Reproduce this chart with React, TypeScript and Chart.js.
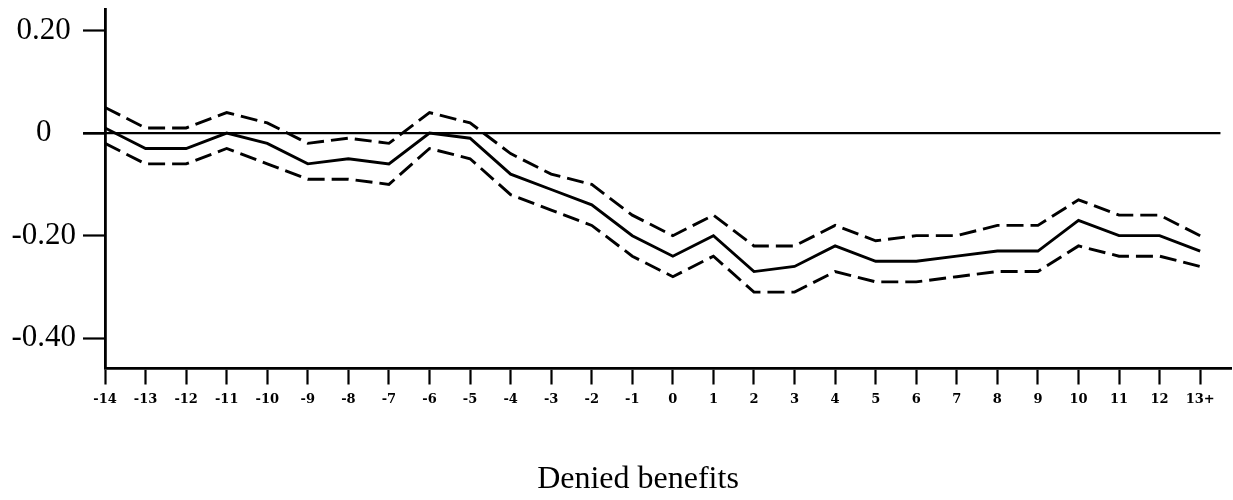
import React, { useEffect, useRef } from "react";
import { Chart, registerables } from "chart.js";

Chart.register(...registerables);

const LABELS = ["-14", "-13", "-12", "-11", "-10", "-9", "-8", "-7", "-6", "-5", "-4", "-3", "-2", "-1", "0", "1", "2", "3", "4", "5", "6", "7", "8", "9", "10", "11", "12", "13+"];

const ESTIMATE = [0.01, -0.03, -0.03, 0.0, -0.02, -0.06, -0.05, -0.06, 0.0, -0.01, -0.08, -0.11, -0.14, -0.2, -0.24, -0.2, -0.27, -0.26, -0.22, -0.25, -0.25, -0.24, -0.23, -0.23, -0.17, -0.2, -0.2, -0.23];

const UPPER = [0.05, 0.01, 0.01, 0.04, 0.02, -0.02, -0.01, -0.02, 0.04, 0.02, -0.04, -0.08, -0.1, -0.16, -0.2, -0.16, -0.22, -0.22, -0.18, -0.21, -0.2, -0.2, -0.18, -0.18, -0.13, -0.16, -0.16, -0.2];

const LOWER = [-0.02, -0.06, -0.06, -0.03, -0.06, -0.09, -0.09, -0.1, -0.03, -0.05, -0.12, -0.15, -0.18, -0.24, -0.28, -0.24, -0.31, -0.31, -0.27, -0.29, -0.29, -0.28, -0.27, -0.27, -0.22, -0.24, -0.24, -0.26];

const Y_TICKS = [0.2, 0, -0.2, -0.4];
const Y_MIN = -0.459;
const Y_MAX = 0.241;
const X_MAX = 27.76;
const ZERO_LINE = [
  { x: -0.54, y: 0 },
  { x: 27.5, y: 0 },
];
const X_TITLE = "Denied benefits";

const toPoints = (arr: number[]) => arr.map((v, i) => ({ x: i, y: v }));

const titlePlugin = {
  id: "bottomTitle",
  afterDraw(chart: any) {
    const { ctx, chartArea } = chart;
    ctx.save();
    ctx.fillStyle = "#000";
    ctx.font = "32px 'Liberation Serif', serif";
    ctx.textAlign = "center";
    ctx.textBaseline = "alphabetic";
    ctx.fillText(X_TITLE, (chartArea.left + chartArea.right) / 2 - 30, 488);
    ctx.restore();
  },
};

export default function App() {
  const canvasRef = useRef<HTMLCanvasElement | null>(null);

  useEffect(() => {
    const canvas = canvasRef.current;
    if (!canvas) return;
    const chart = new Chart(canvas, {
      type: "line",
      data: {
        datasets: [
          {
            data: ZERO_LINE,
            borderColor: "#000",
            borderWidth: 2.2,
            pointRadius: 0,
            clip: false as any,
          },
          {
            data: toPoints(UPPER),
            borderColor: "#000",
            borderWidth: 2.9,
            borderDash: [17, 7],
            pointRadius: 0,
            tension: 0,
          },
          {
            data: toPoints(ESTIMATE),
            borderColor: "#000",
            borderWidth: 2.9,
            pointRadius: 0,
            tension: 0,
          },
          {
            data: toPoints(LOWER),
            borderColor: "#000",
            borderWidth: 2.9,
            borderDash: [17, 7],
            pointRadius: 0,
            tension: 0,
          },
        ],
      },
      options: {
        responsive: false,
        animation: false,
        devicePixelRatio: 1,
        layout: { padding: { left: 0, top: 9.5, right: 2, bottom: 0 } },
        plugins: {
          legend: { display: false },
          tooltip: { enabled: false },
          title: { display: false },
        },
        scales: {
          x: {
            type: "linear",
            min: 0,
            max: X_MAX,
            border: { display: true, color: "#000", width: 2.8 },
            grid: {
              drawOnChartArea: false,
              drawTicks: true,
              tickLength: 16,
              tickWidth: 2.2,
              tickColor: "#000",
            },
            ticks: {
              stepSize: 1,
              autoSkip: false,
              maxRotation: 0,
              includeBounds: false,
              padding: 7,
              color: "#000",
              font: { family: "'DejaVu Serif', serif", size: 13, weight: "bold" as any },
              callback: (v: any) => (Number.isInteger(v) && LABELS[v] !== undefined ? LABELS[v] : ""),
            },
            afterFit: (scale: any) => {
              scale.height = 131.5;
              scale.paddingLeft = 0;
              scale.paddingRight = 0;
            },
          },
          y: {
            type: "linear",
            min: Y_MIN,
            max: Y_MAX,
            border: { display: true, color: "#000", width: 2.8 },
            grid: {
              drawOnChartArea: false,
              drawTicks: true,
              tickLength: 22,
              tickWidth: 2.2,
              tickColor: "#000",
            },
            afterBuildTicks: (scale: any) => {
              scale.ticks = Y_TICKS.map((v) => ({ value: v }));
            },
            ticks: {
              crossAlign: "center",
              padding: 7,
              color: "#000",
              font: { family: "'Liberation Serif', serif", size: 31 },
              callback: (v: any) => (Math.abs(v) < 1e-9 ? "0" : Number(v).toFixed(2)),
            },
            afterFit: (scale: any) => {
              scale.width = 105;
              scale.paddingTop = 0;
              scale.paddingBottom = 0;
            },
          },
        },
      } as any,
      plugins: [titlePlugin],
    });
    return () => chart.destroy();
  }, []);

  return (
    <div style={{ position: "fixed", left: 0, top: 0, width: 1233, height: 500, background: "#fff" }}>
      <canvas ref={canvasRef} width={1233} height={500} />
    </div>
  );
}
